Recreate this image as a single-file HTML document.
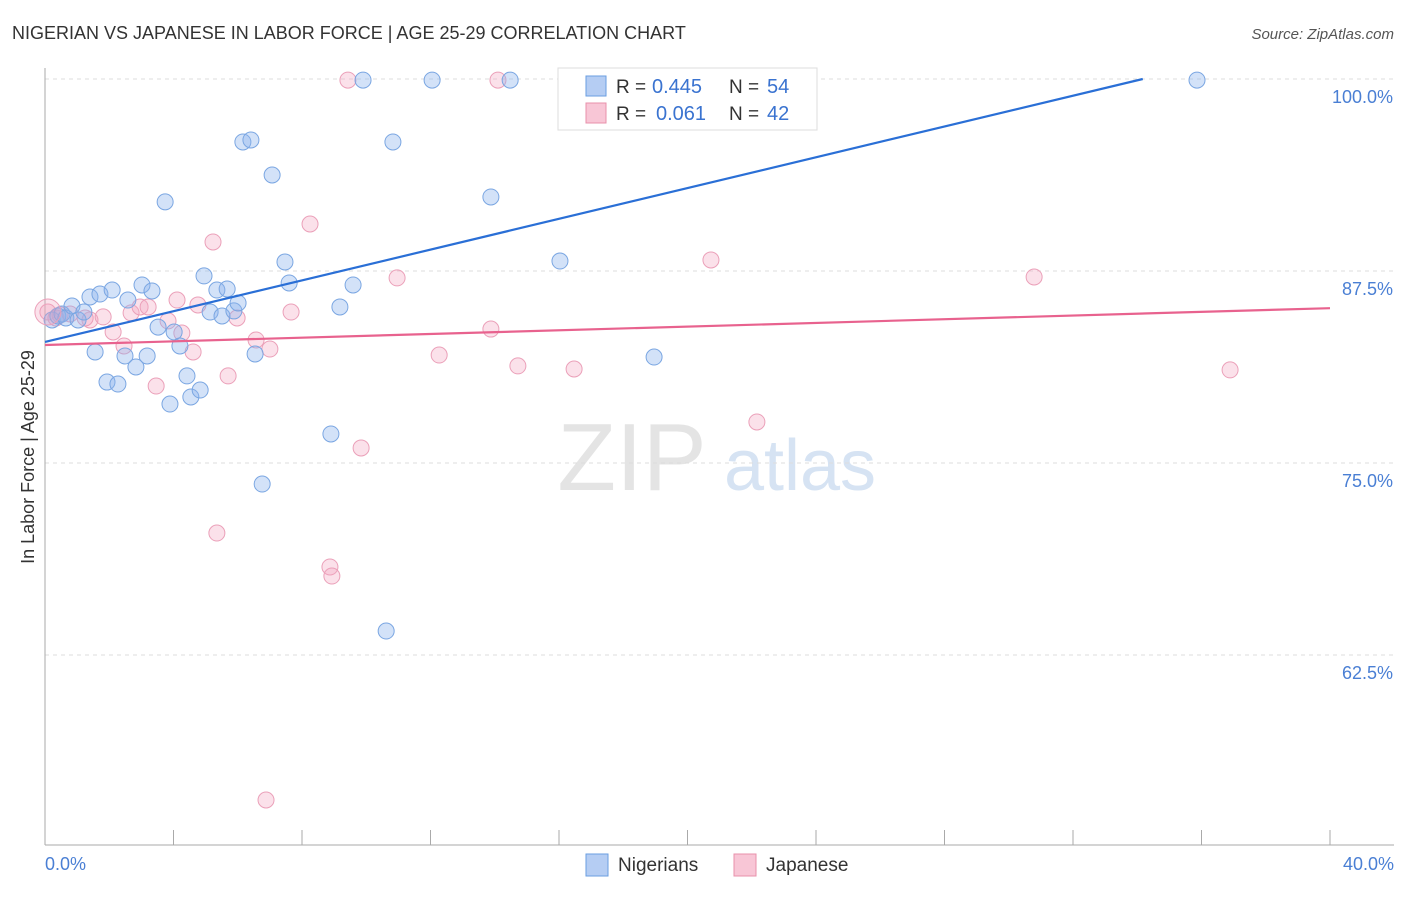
<!DOCTYPE html>
<html><head><meta charset="utf-8"><style>
body{margin:0;background:#fff;font-family:"Liberation Sans",sans-serif;}
svg text{font-family:"Liberation Sans",sans-serif;}
</style></head><body>
<svg id="chart" width="1406" height="892">
<text x="12" y="39" font-size="18" fill="#333">NIGERIAN VS JAPANESE IN LABOR FORCE | AGE 25-29 CORRELATION CHART</text>
<text x="1394" y="39" font-size="15" fill="#555" text-anchor="end" font-style="italic">Source: ZipAtlas.com</text>
<g><text x="632" y="490" font-size="96" fill="#e4e4e4" font-family="Liberation Serif" text-anchor="middle">ZIP</text><text x="800" y="490" font-size="72" fill="#d6e3f3" text-anchor="middle">atlas</text></g>
<g id="grid"></g>
<g id="axes"></g>
<g id="marks"></g>
<text transform="translate(34,457) rotate(-90)" font-size="18" fill="#333" text-anchor="middle">In Labor Force | Age 25-29</text>
<text x="45" y="870" font-size="18" fill="#4a7fd4">0.0%</text>
<text x="1394" y="870" font-size="18" fill="#4a7fd4" text-anchor="end">40.0%</text>
<g>
<rect x="558" y="68" width="259" height="62" fill="#fff" stroke="#ddd"/>
<rect x="586" y="76" width="20" height="20" fill="#b5cdf3" stroke="#6a9ee0"/>
<text x="616" y="93" font-size="19" fill="#333">R =</text><text x="652" y="93" font-size="20" fill="#3a73d0">0.445</text>
<text x="729" y="93" font-size="19" fill="#333">N =</text><text x="767" y="93" font-size="20" fill="#3a73d0">54</text>
<rect x="586" y="103" width="20" height="20" fill="#f8c6d6" stroke="#e890ab"/>
<text x="616" y="120" font-size="19" fill="#333">R =</text><text x="656" y="120" font-size="20" fill="#3a73d0">0.061</text>
<text x="729" y="120" font-size="19" fill="#333">N =</text><text x="767" y="120" font-size="20" fill="#3a73d0">42</text>
</g>
<g>
<rect x="586" y="854" width="22" height="22" fill="#b5cdf3" stroke="#6a9ee0"/>
<text x="618" y="871" font-size="19" fill="#333">Nigerians</text>
<rect x="734" y="854" width="22" height="22" fill="#f8c6d6" stroke="#e890ab"/>
<text x="766" y="871" font-size="19" fill="#333">Japanese</text>
</g>
</svg>
<script>
const yTicks=[100,87.5,75,62.5];
const yTickLabels=["100.0%","87.5%","75.0%","62.5%"];
const xTicks=[0,4,8,12,16,20,24,28,32,36,40];
const nigX=[0.22,0.40,0.53,0.65,0.84,1.03,1.21,1.40,1.71,2.09,1.56,1.93,2.27,2.49,2.58,2.83,3.02,3.18,3.33,3.52,3.74,3.89,4.02,4.20,4.42,4.54,4.83,4.95,5.14,5.35,5.51,5.67,5.88,6.01,6.16,6.41,6.54,6.76,7.07,7.47,7.60,8.90,9.18,9.59,9.90,10.62,10.83,12.05,13.88,14.48,16.03,18.46,18.96,35.86];
const nigY=[84.31,84.57,84.70,84.44,85.22,84.31,84.83,85.81,86.00,86.26,82.23,80.27,80.14,81.97,85.61,81.25,86.59,81.97,86.20,83.85,92.00,78.84,83.53,82.62,80.67,79.30,79.75,87.18,84.83,86.26,84.57,86.33,84.90,85.42,95.90,96.03,82.10,73.63,93.75,88.09,86.72,76.89,85.16,86.59,99.93,64.06,95.90,99.93,92.32,99.93,88.15,99.93,81.90,99.93];
const japX=[0.09,0.34,0.78,1.40,1.81,2.12,2.46,2.68,2.96,3.21,3.46,3.83,4.11,4.26,4.61,4.76,5.23,5.70,5.98,6.57,6.88,7.00,7.66,8.25,8.87,8.93,9.43,9.84,10.96,12.27,13.88,14.10,14.72,16.34,16.47,20.73,22.16,30.79,36.89,5.35,0.47,1.25];
const japY=[84.83,84.44,84.70,84.31,84.51,83.53,82.62,84.77,85.16,85.16,80.01,84.25,85.61,83.46,82.23,85.29,89.39,80.67,84.44,83.01,53.06,82.42,84.83,90.56,68.23,67.64,99.93,75.98,87.05,82.03,83.72,99.93,81.32,97.79,81.12,88.22,77.67,87.11,81.06,70.44,84.64,84.44];
const nigTrend=[82.88,0.501];
const japTrend=[82.68,0.060];
const NS="http://www.w3.org/2000/svg";
const xs=v=>45+v/40*1285;
const ys=v=>79+(100-v)/12.5*192;
function mk(t,a,p){const e=document.createElementNS(NS,t);for(const k in a)e.setAttribute(k,a[k]);p.appendChild(e);return e;}
const grid=document.getElementById('grid'),axes=document.getElementById('axes'),marks=document.getElementById('marks');
yTicks.forEach((t,i)=>{
 const l=mk('line',{x1:45,x2:1394,y1:ys(t),y2:ys(t),stroke:'#ddd','stroke-dasharray':'4,4'},grid);
 
 
 const tx=mk('text',{x:1393,y:ys(t)+24,'font-size':18,fill:'#4a7fd4','text-anchor':'end'},grid);
 tx.textContent=yTickLabels[i];
 
 
});
const ya=mk('line',{x1:45,x2:45,y1:68,y2:845,stroke:'#aaa'},axes);


const xa=mk('line',{x1:45,x2:1394,y1:845,y2:845,stroke:'#aaa'},axes);


xTicks.forEach(t=>{
 const l=mk('line',{x1:xs(t),x2:xs(t),y1:830,y2:845,stroke:'#aaa'},axes);
 
 
});
function pts(X,Y,fill,stroke,name){
 X.forEach((x,i)=>{
  const c=mk('circle',{cx:xs(x),cy:ys(Y[i]),r:8,fill:fill,stroke:stroke,'stroke-width':1},marks);
  
  
 });
}
pts(japX,japY,'rgba(244,170,196,0.35)','#eba0b9','japanese-point');
pts(nigX,nigY,'rgba(140,180,236,0.38)','#7aa6e2','nigerian-point');
const big=mk('circle',{cx:xs(0.09),cy:ys(84.83),r:13,fill:'rgba(242,160,188,0.3)',stroke:'#eba0b9'},marks);


function trend(tr,x1,color,name){
 const l=mk('line',{x1:xs(0),y1:ys(tr[0]),x2:xs(x1),y2:ys(tr[0]+tr[1]*x1),stroke:color,'stroke-width':2.2},marks);
 
 
}
trend(nigTrend,(100-nigTrend[0])/nigTrend[1],'#2a6fd6','nigerian-trendline');
trend(japTrend,40,'#e8628e','japanese-trendline');
</script>
</body></html>
